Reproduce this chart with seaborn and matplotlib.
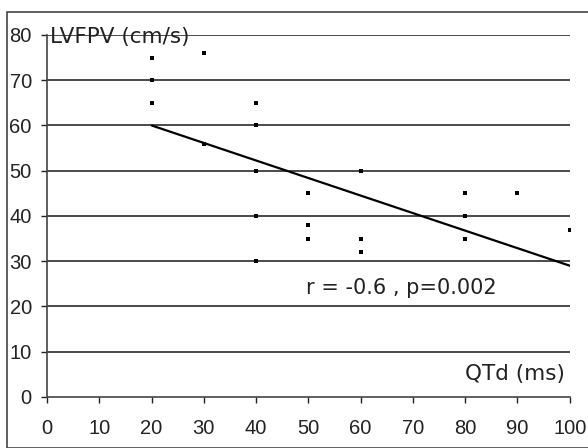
import matplotlib
matplotlib.use("Agg")
import matplotlib.pyplot as plt
import seaborn as sns
import pandas as pd
from matplotlib.patches import Rectangle

# Data
qtd = [20, 20, 20, 30, 30, 40, 40, 40, 40, 40,
       50, 50, 50, 60, 60, 60, 80, 80, 80, 90, 100]
lvfpv = [75, 70, 65, 76, 56, 65, 60, 50, 40, 30,
         45, 38, 35, 50, 35, 32, 45, 40, 35, 45, 37]

# regression line endpoints as drawn in the reference
fit_x = [20, 100]
fit_y = [60, 29]

x_ticks = [0, 10, 20, 30, 40, 50, 60, 70, 80, 90, 100]
y_ticks = [0, 10, 20, 30, 40, 50, 60, 70, 80]

df = pd.DataFrame({'QTd': qtd, 'LVFPV': lvfpv})
fit = pd.DataFrame({'QTd': fit_x, 'LVFPV': fit_y})

sns.set_theme(style="white")
plt.rcParams['font.family'] = ['DejaVu Sans']

fig = plt.figure(figsize=(5.88, 4.48), dpi=100)
ax = fig.add_axes([0.080, 0.114, 0.889, 0.808])

# horizontal grid lines
for yv in y_ticks[1:]:
    ax.axhline(yv, color='#4a4a4a', lw=1.4, zorder=1)

sns.lineplot(data=fit, x='QTd', y='LVFPV', ax=ax, color='black', lw=1.6, zorder=3)
sns.scatterplot(data=df, x='QTd', y='LVFPV', ax=ax, color='black', marker='s',
                s=11, linewidth=0, zorder=4)

ax.set_xlim(0, 100)
ax.set_ylim(0, 80)
ax.set_xticks(x_ticks)
ax.set_yticks(y_ticks)
ax.set_xlabel('')
ax.set_ylabel('')
ax.tick_params(axis='both', colors='#222222', length=4, width=1,
               direction='out', bottom=True, left=True,
               labelsize=14.5, labelfontfamily='Liberation Sans')
ax.tick_params(axis='x', pad=12)
ax.tick_params(axis='y', pad=7)

for side in ['top', 'right']:
    ax.spines[side].set_visible(False)
for side in ['left', 'bottom']:
    ax.spines[side].set_color('#444444')
    ax.spines[side].set_linewidth(1.2)

ax.text(0.6, 79.5, 'LVFPV (cm/s)', fontsize=15.5, va='center', ha='left', color='#222222', zorder=5)
ax.text(49.5, 24, 'r = -0.6 , p=0.002', fontsize=15, va='center', ha='left', color='#222222')
ax.text(99, 5, 'QTd (ms)', fontsize=15.5, va='center', ha='right', color='#222222')

# frame around the figure
fig.patches.append(Rectangle((0.012, 0.0), 0.99, 0.973, transform=fig.transFigure,
                             fill=False, edgecolor='#444444', lw=1.2))

fig.savefig('out.png', dpi=100)
